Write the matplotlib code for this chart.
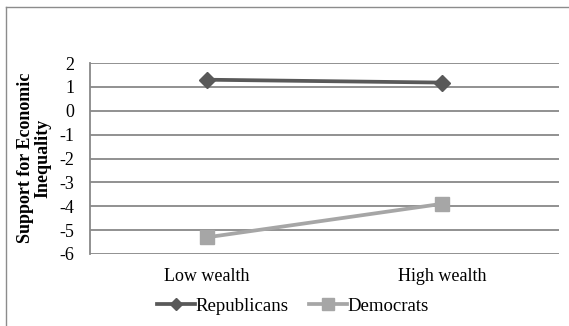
import matplotlib
matplotlib.use("Agg")
import matplotlib.pyplot as plt
from matplotlib.lines import Line2D

categories = ["Low wealth", "High wealth"]
republicans = [1.3, 1.18]
democrats = [-5.3, -3.9]
yticks = [2, 1, 0, -1, -2, -3, -4, -5, -6]
ytick_labels = ["2", "1", "0", "-1", "-2", "-3", "-4", "-5", "-6"]

plt.rcParams['font.family'] = ['Liberation Serif', 'DejaVu Serif']
plt.rcParams['axes.unicode_minus'] = False

fig = plt.figure(figsize=(5.69, 3.26), dpi=100)
W, H = 569, 326
ax = fig.add_axes([90 / W, 1 - 254 / H, (559 - 90) / W, (254 - 63) / H])

x = list(range(len(categories)))
ax.plot(x, republicans, color="#595959", lw=2.7, marker="D", ms=8, label="Republicans", zorder=3)
ax.plot(x, democrats, color="#A6A6A6", lw=2.7, marker="s", ms=10, label="Democrats", zorder=3)

ax.set_xlim(-0.5, 1.5)
ax.set_ylim(-6, 2)
ax.set_yticks(yticks)
ax.set_yticklabels(ytick_labels)
ax.set_xticks(x)
ax.set_xticklabels(categories)
ax.tick_params(axis="both", length=0, labelsize=13, colors="black")
ax.tick_params(axis="y", pad=11)
ax.tick_params(axis="x", pad=10)
for v in yticks:
    ax.axhline(v, color="#888888", lw=1.3, zorder=1)
for s in ["top", "right", "bottom"]:
    ax.spines[s].set_visible(False)
ax.spines["left"].set_color("#888888")
ax.spines["left"].set_linewidth(1.3)

fig.text(34 / W, 1 - 158 / H, "Support for Economic\nInequality", rotation=90,
         ha="center", va="center", fontsize=13, fontweight="bold", multialignment="center",
         linespacing=1.0)

leg = fig.legend(loc="center", bbox_to_anchor=(293 / W, 1 - 306 / H), ncol=2, frameon=False,
                 fontsize=13.5, handlelength=2.0, handletextpad=0.05, columnspacing=1.1,
                 markerscale=0.8)

# outer border
fig.add_artist(Line2D([6 / W, 1], [1 - 7 / H, 1 - 7 / H], transform=fig.transFigure, color="#8c8c8c", lw=1))
fig.add_artist(Line2D([6 / W, 6 / W], [1 - 7 / H, 0], transform=fig.transFigure, color="#8c8c8c", lw=1))

fig.savefig("out.png", dpi=100, facecolor="white")
